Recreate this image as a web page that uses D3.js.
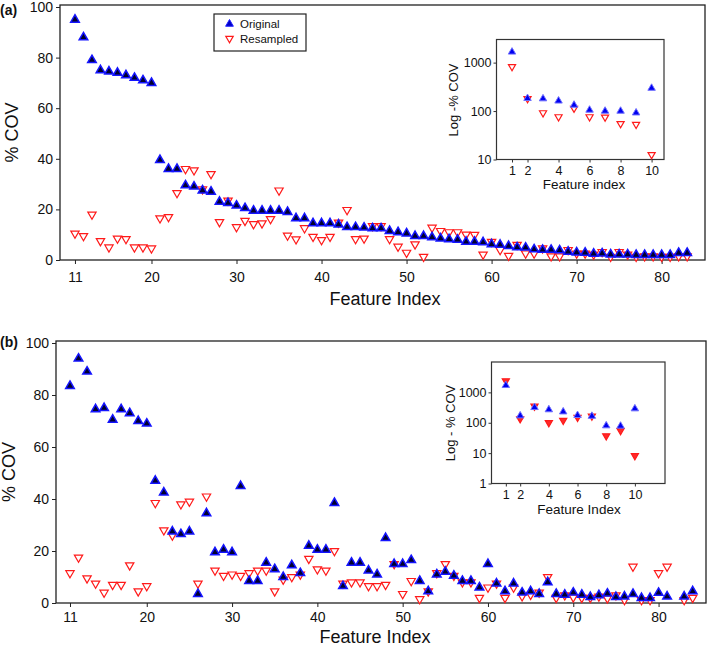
<!DOCTYPE html>
<html>
<head>
<meta charset="utf-8">
<script src="https://cdn.jsdelivr.net/npm/d3@7"></script>
<style>
body { margin: 0; background: #fff; }
svg text { font-family: "Liberation Sans", Arial, sans-serif; fill: #111; }
</style>
</head>
<body>
<div id="chart"></div>
<script>
// panel (a): feature index 11..83
var featuresA = [11,12,13,14,15,16,17,18,19,20,21,22,23,24,25,26,27,28,29,30,31,32,33,34,35,36,37,38,39,40,
    41,42,43,44,45,46,47,48,49,50,51,52,53,54,55,56,57,58,59,60,61,62,63,64,65,66,67,68,69,70,
    71,72,73,74,75,76,77,78,79,80,81,82,83];
var originalA = [95,88,79,75,74.5,74,73,72,71,70,39.5,36,36,29.5,29,27.5,27,23,22.5,21.5,20.5,19.5,19.5,19.5,19.5,19,16.5,16.5,14.5,14.5,
    14.5,14,13,13,12.8,12.5,12.5,11.5,11,10.5,9.5,9.5,9,8.5,8.2,8,7.2,7.2,7,6.2,6,5.5,5,4.9,4.2,4,4,3.8,3.3,3,
    2.9,2.5,2.6,2.2,2.2,2.2,2,2,2,2,2,2.8,2.8];
var resampledA = [10.5,9.5,18,7.5,5,8.5,8.3,5,5,4.6,16.5,17,26.5,36,35.5,28,34,15,23.5,13,15.5,14.2,14.5,16.2,27.5,9.7,8.2,12.6,9.2,7.9,
    9.2,14.8,19.8,8.3,8.5,13.4,13.4,8.3,5.3,2.9,6.2,1.3,12.8,11.5,11,11,10.1,10,2.2,7.2,4,1.7,6,2.6,2.6,4.6,1.5,1.5,4,2.6,
    2.6,2.2,3.2,1.3,3.2,2.2,1.3,1.5,1.5,1.3,1.3,1.5,1.5];

// panel (b): feature index 11..84, no value at 82
var featuresB = [11,12,13,14,15,16,17,18,19,20,21,22,23,24,25,26,27,28,29,30,31,32,33,34,35,36,37,38,39,40,
    41,42,43,44,45,46,47,48,49,50,51,52,53,54,55,56,57,58,59,60,61,62,63,64,65,66,67,68,69,70,
    71,72,73,74,75,76,77,78,79,80,81,83,84];
var originalB = [83.5,94,89,74.5,75,70.5,74.5,73,70,69,47,42.5,27.5,26.5,27.5,3.5,34.5,19.5,20.5,19.5,45,8.5,8.5,15.5,13,10,14.5,11.5,22,20.5,
    20.5,38.5,6.5,15.5,15.5,12.5,11,25,15,15,16.5,8.5,4.5,11,12,10.5,8.5,8.5,6,15,7.5,4.5,7.5,4,4.5,3.5,8,3.5,3.2,4,
    3.2,2.3,3,3.6,2.3,2.5,3.5,1.9,1.9,3.9,2.5,2.5,4.5];
var resampledB = [11.5,17.5,9.5,7.5,4,7,7,14.5,4.5,6.5,38.5,28,26,38,39,7.5,41,12.5,10.5,11,10.5,11.5,12.5,12.5,4.5,9,10,11,17,13,
    12.5,20,7.5,8,8,6.5,6.5,7,15,3.5,8.5,1.5,4.5,11.5,15,10.5,8,8,2,6,7.5,2,6,2.6,3.2,4,10,2,3,2.2,
    2,2,2.5,1.8,3,1.2,14,1.2,1.2,11.5,14,1.2,2];

// insets: features 1..10 on a log axis
var insetFeatures = [1,2,3,4,5,6,7,8,9,10];
var insetOrigA = [1660,183,180,162,133,105,100,100,92,297];
var insetResA = [825,180,92,76,114,76,75,55,53,12.6];
var insetOrigB = [1700,170,320,270,230,175,165,80,78,290];
var insetResB = [2400,135,350,100,120,150,165,37,55,8.2];

var xTicks = [11,20,30,40,50,60,70,80];
var yTicks = [0,20,40,60,80,100];
var insetXTicks = [1,2,4,6,8,10];

var svg = d3.select("#chart").append("svg")
    .attr("width", 709)
    .attr("height", 649);

var tri = d3.symbol().type(d3.symbolTriangle);

function drawMarkers(g, feats, vals, x, y, kind, size) {
    var pts = feats.map(function (f, i) { return {f: f, v: vals[i]}; });
    g.append("g").selectAll("path")
        .data(pts)
        .enter()
        .append("path")
        .attr("d", tri.size(size))
        .attr("transform", function (d) {
            return "translate(" + x(d.f) + "," + y(d.v) + ")" + (kind === "orig" ? "" : " rotate(180)");
        })
        .attr("fill", kind === "orig" ? "#00002e" : (kind === "resFill" ? "#ff2a2a" : "#fff"))
        .attr("stroke", kind === "orig" ? "#1414ff" : "#ff1a1a")
        .attr("stroke-width", kind === "orig" ? 1.5 : 1.2);
}

function drawPanel(p) {
    var g = svg.append("g");
    var x = d3.scaleLinear().domain(p.xDomain).range([p.left, p.right]);
    var y = d3.scaleLinear().domain([0, 100]).range([p.bottom, p.y100]);

    g.append("rect")
        .attr("x", p.left).attr("y", p.top)
        .attr("width", p.right - p.left).attr("height", p.bottom - p.top)
        .attr("fill", "#fff").attr("stroke", "#222").attr("stroke-width", 1.3);

    var xa = g.append("g")
        .attr("transform", "translate(0," + p.bottom + ")")
        .call(d3.axisBottom(x).tickValues(xTicks).tickSize(4).tickPadding(p.xPad));
    var ya = g.append("g")
        .attr("transform", "translate(" + p.left + ",0)")
        .call(d3.axisLeft(y).tickValues(yTicks).tickSize(4).tickPadding(3));
    [xa, ya].forEach(function (a) {
        a.select(".domain").remove();
        a.selectAll("line").attr("stroke", "#222");
        a.selectAll("text").style("font-size", "14px").attr("fill", "#111");
    });

    drawMarkers(g, p.features, p.res, x, y, "res", 30);
    drawMarkers(g, p.features, p.orig, x, y, "orig", 32);

    g.append("text")
        .attr("transform", "translate(" + p.yLabelX + "," + ((p.top + p.bottom) / 2) + ") rotate(-90)")
        .attr("text-anchor", "middle")
        .attr("dy", "0.35em")
        .style("font-size", "18px")
        .text("% COV");
    g.append("text")
        .attr("x", p.xLabelX).attr("y", p.xLabelY)
        .attr("text-anchor", "middle")
        .style("font-size", "18px")
        .text("Feature Index");
    g.append("text")
        .attr("x", 0).attr("y", p.tagY)
        .style("font-size", "14px").style("font-weight", "bold")
        .text(p.tag);
}

function drawInset(q) {
    var g = svg.append("g");
    var x = d3.scaleLinear().domain(q.xDomain).range([q.left, q.right]);
    var y = d3.scaleLog().domain(q.yDomain).range([q.bottom, q.top]);

    g.append("rect")
        .attr("x", q.left).attr("y", q.top)
        .attr("width", q.right - q.left).attr("height", q.bottom - q.top)
        .attr("fill", "#fff").attr("stroke", "#333").attr("stroke-width", 1.2);

    var xa = g.append("g")
        .attr("transform", "translate(0," + q.bottom + ")")
        .call(d3.axisBottom(x).tickValues(insetXTicks).tickSize(3).tickPadding(4));
    var ya = g.append("g")
        .attr("transform", "translate(" + q.left + ",0)")
        .call(d3.axisLeft(y).tickValues(q.yTicks).tickFormat(d3.format("d")).tickSize(3).tickPadding(2));
    [xa, ya].forEach(function (a) {
        a.select(".domain").remove();
        a.selectAll("line").attr("stroke", "#333");
        a.selectAll("text").style("font-size", "12.5px").attr("fill", "#111");
    });

    drawMarkers(g, insetFeatures, q.res, x, y, q.resKind, 22);
    var pts = insetFeatures.map(function (f, i) { return {f: f, v: q.orig[i]}; });
    g.append("g").selectAll("path")
        .data(pts)
        .enter()
        .append("path")
        .attr("d", tri.size(24))
        .attr("transform", function (d) { return "translate(" + x(d.f) + "," + y(d.v) + ")"; })
        .attr("fill", "#0000f0")
        .attr("stroke", "#6f6fff")
        .attr("stroke-width", 1);

    g.append("text")
        .attr("transform", "translate(" + q.yLabelX + "," + q.yLabelY + ") rotate(-90)")
        .attr("text-anchor", "middle")
        .attr("dy", "0.35em")
        .style("font-size", "13px")
        .text(q.yLabel);
    g.append("text")
        .attr("x", q.xLabelX).attr("y", q.xLabelY)
        .attr("text-anchor", "middle")
        .style("font-size", "13.5px")
        .text(q.xLabel);
}

drawPanel({
    left: 60, right: 705, top: 5, bottom: 260, y100: 7,
    xDomain: [9.24, 85.1], xPad: 8,
    features: featuresA, orig: originalA, res: resampledA,
    yLabelX: 12, xLabelX: 385, xLabelY: 305, tag: "(a)", tagY: 15
});

drawPanel({
    left: 56, right: 706, top: 341, bottom: 603, y100: 343,
    xDomain: [9.36, 85.56], xPad: 5,
    features: featuresB, orig: originalB, res: resampledB,
    yLabelX: 9, xLabelX: 375, xLabelY: 643, tag: "(b)", tagY: 347
});

drawInset({
    left: 496.5, right: 664, top: 39.5, bottom: 159.5,
    xDomain: [0, 10.8], yDomain: [10, 3000], yTicks: [10, 100, 1000],
    orig: insetOrigA, res: insetResA, resKind: "res",
    yLabel: "Log -% COV", yLabelX: 453, yLabelY: 100,
    xLabel: "Feature index", xLabelX: 584, xLabelY: 189
});

drawInset({
    left: 491.5, right: 665, top: 362, bottom: 483.5,
    xDomain: [0, 12.1], yDomain: [1, 10000], yTicks: [1, 10, 100, 1000],
    orig: insetOrigB, res: insetResB, resKind: "resFill",
    yLabel: "Log - % COV", yLabelX: 450, yLabelY: 423,
    xLabel: "Feature Index", xLabelX: 579, xLabelY: 514
});

// legend of panel (a)
var legend = svg.append("g");
legend.append("rect")
    .attr("x", 214).attr("y", 14).attr("width", 92).attr("height", 37)
    .attr("fill", "#fff").attr("stroke", "#222").attr("stroke-width", 1.2);
legend.append("path")
    .attr("d", tri.size(26))
    .attr("transform", "translate(229.5,24)")
    .attr("fill", "#0000c8").attr("stroke", "#2020ff").attr("stroke-width", 1);
legend.append("path")
    .attr("d", tri.size(24))
    .attr("transform", "translate(229.5,38.5) rotate(180)")
    .attr("fill", "#fff").attr("stroke", "#ff1a1a").attr("stroke-width", 1.2);
legend.append("text").attr("x", 240).attr("y", 27.5).style("font-size", "11.5px").text("Original");
legend.append("text").attr("x", 240).attr("y", 42.5).style("font-size", "11.5px").text("Resampled");
</script>
</body>
</html>
